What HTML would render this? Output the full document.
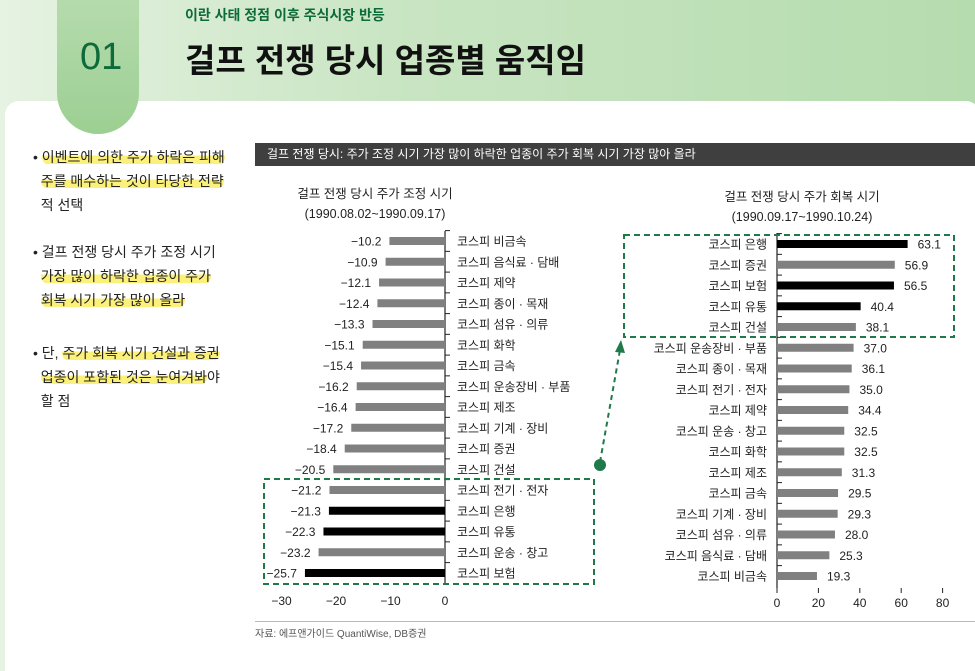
<!DOCTYPE html>
<html><head><meta charset="utf-8">
<style>
*{margin:0;padding:0;box-sizing:border-box}
body{width:975px;height:657px;overflow:hidden;position:relative;font-family:"Liberation Sans","Noto Sans CJK KR",sans-serif;background:linear-gradient(90deg,#e6f2e2 0%,#c9e5c3 40%,#b5dcae 100%)}
.tab{position:absolute;left:57px;top:-20px;width:82px;height:154px;border-radius:0 0 41px 41px;background:linear-gradient(180deg,#b9ddb1,#9ccf92);z-index:2}
.panel{position:absolute;left:5px;top:101px;width:975px;height:570px;background:#fff;border-radius:14px 14px 0 0;z-index:1}
.num{position:absolute;left:80px;top:36px;font-size:38px;color:#0d6b3a;z-index:3}
.sub{position:absolute;left:185px;top:5px;font-size:14px;color:#0d6b3a;font-weight:bold}
.title{position:absolute;left:185px;top:34px;font-size:33px;font-weight:bold;color:#111}
.bul{position:absolute;left:33px;font-size:14px;color:#222;line-height:24px;width:220px;z-index:3}
.bul div{white-space:nowrap}
.hl{background:linear-gradient(180deg,transparent 40%,#fbf07a 40%,#fbf07a 95%,transparent 95%);border-radius:8px}
.bar{position:absolute;left:255px;top:143px;width:720px;height:23px;background:#3f3f3f;color:#fff;font-size:12px;line-height:23px;padding-left:12px;z-index:3}
.src{position:absolute;left:255px;top:625px;font-size:10px;color:#555;z-index:3}
.line{position:absolute;left:255px;top:621px;width:720px;height:1px;background:#bbb;z-index:3}
svg{z-index:4}
</style></head><body>
<div class="tab"></div>
<div class="panel"></div>
<div class="sub">이란 사태 정점 이후 주식시장 반등</div>
<div class="num">01</div>
<div class="title">걸프 전쟁 당시 업종별 움직임</div>
<div class="bul" style="top:145px">
<div>• <span class="hl">이벤트에 의한 주가 하락은 피해</span></div>
<div>&nbsp;&nbsp;<span class="hl">주를 매수하는 것이 타당한 전략</span></div>
<div>&nbsp;&nbsp;적 선택</div></div>
<div class="bul" style="top:240px">
<div>• 걸프 전쟁 당시 주가 조정 시기</div>
<div>&nbsp;&nbsp;<span class="hl">가장 많이 하락한 업종이 주가</span></div>
<div>&nbsp;&nbsp;<span class="hl">회복 시기 가장 많이 올라</span></div></div>
<div class="bul" style="top:341px">
<div>• 단, <span class="hl">주가 회복 시기 건설과 증권</span></div>
<div>&nbsp;&nbsp;<span class="hl">업종이 포함된 것은 눈여겨봐</span>야</div>
<div>&nbsp;&nbsp;할 점</div></div>
<div class="bar">걸프 전쟁 당시: 주가 조정 시기 가장 많이 하락한 업종이 주가 회복 시기 가장 많아 올라</div>
<div class="line"></div>
<div class="src">자료: 에프앤가이드 QuantiWise, DB증권</div>
<svg id="chart" width="975" height="657" style="position:absolute;left:0;top:0"></svg>
<script>
const leftCats=["코스피 비금속","코스피 음식료 · 담배","코스피 제약","코스피 종이 · 목재","코스피 섬유 · 의류","코스피 화학","코스피 금속","코스피 운송장비 · 부품","코스피 제조","코스피 기계 · 장비","코스피 증권","코스피 건설","코스피 전기 · 전자","코스피 은행","코스피 유통","코스피 운송 · 창고","코스피 보험"];
const leftVals=[-10.2,-10.9,-12.1,-12.4,-13.3,-15.1,-15.4,-16.2,-16.4,-17.2,-18.4,-20.5,-21.2,-21.3,-22.3,-23.2,-25.7];
const leftHi=[0,0,0,0,0,0,0,0,0,0,0,0,0,1,1,0,1];
const leftTicks=[-30,-20,-10,0];
const rightCats=["코스피 은행","코스피 증권","코스피 보험","코스피 유통","코스피 건설","코스피 운송장비 · 부품","코스피 종이 · 목재","코스피 전기 · 전자","코스피 제약","코스피 운송 · 창고","코스피 화학","코스피 제조","코스피 금속","코스피 기계 · 장비","코스피 섬유 · 의류","코스피 음식료 · 담배","코스피 비금속"];
const rightVals=[63.1,56.9,56.5,40.4,38.1,37.0,36.1,35.0,34.4,32.5,32.5,31.3,29.5,29.3,28.0,25.3,19.3];
const rightHi=[1,0,1,1,0,0,0,0,0,0,0,0,0,0,0,0,0];
const rightTicks=[0,20,40,60,80];

const svg=document.getElementById('chart');
const NS='http://www.w3.org/2000/svg';
function mk(t,a,txt){const e=document.createElementNS(NS,t);for(const k in a)e.setAttribute(k,a[k]);if(txt!==undefined)e.textContent=txt;svg.appendChild(e);return e;}
const F='"Liberation Sans","Noto Sans CJK KR",sans-serif';
const lx=v=>445+v*5.45;
const rx=v=>777+v*2.07;
const rowL=i=>241+i*20.75;
const rowR=i=>244+i*20.75;
const fmt=v=>(v<0?'−':'')+Math.abs(v).toFixed(1);

let t=mk('text',{x:375,y:198,'font-size':12.5,'text-anchor':'middle','font-family':F,fill:'#222'},'걸프 전쟁 당시 주가 조정 시기');

t=mk('text',{x:375,y:218,'font-size':12.5,'text-anchor':'middle','font-family':F,fill:'#222'},'(1990.08.02~1990.09.17)');

let ax=mk('line',{x1:445,y1:231,x2:445,y2:584,stroke:'#222','stroke-width':1.2});

leftVals.forEach((v,i)=>{
  const y=rowL(i);
  const r=mk('rect',{x:lx(v),y:y-4,width:lx(0)-lx(v),height:8,fill:leftHi[i]?'#000':'#808080'});
  
  const l=mk('text',{x:lx(v)-8,y:y+4.5,'font-size':12,'text-anchor':'end','font-family':F,fill:'#222'},fmt(v));
  
  const c=mk('text',{x:457,y:y+4.5,'font-size':12,'font-family':F,fill:'#222'},leftCats[i]);
  
  const tk=mk('line',{x1:445,y1:y-10.4,x2:450,y2:y-10.4,stroke:'#222'});
  
});
leftTicks.forEach(v=>{
  const tl=mk('text',{x:lx(v),y:605,'font-size':12,'text-anchor':'middle','font-family':F,fill:'#222'},v<0?'−'+Math.abs(v):String(v));
  
});
let b=mk('rect',{x:264,y:rowL(12)-11,width:330,height:rowL(16)-rowL(12)+22,fill:'none',stroke:'#1f7a4a','stroke-width':2,'stroke-dasharray':'6,4'});


t=mk('text',{x:802,y:201,'font-size':12.5,'text-anchor':'middle','font-family':F,fill:'#222'},'걸프 전쟁 당시 주가 회복 시기');

t=mk('text',{x:802,y:221,'font-size':12.5,'text-anchor':'middle','font-family':F,fill:'#222'},'(1990.09.17~1990.10.24)');

ax=mk('line',{x1:777,y1:233,x2:777,y2:588,stroke:'#222','stroke-width':1.2});

rightVals.forEach((v,i)=>{
  const y=rowR(i);
  const r=mk('rect',{x:rx(0),y:y-4,width:rx(v)-rx(0),height:8,fill:rightHi[i]?'#000':'#808080'});
  
  const l=mk('text',{x:rx(v)+10,y:y+4.5,'font-size':12,'font-family':F,fill:'#222'},v.toFixed(1));
  
  const c=mk('text',{x:767,y:y+4.5,'font-size':12,'text-anchor':'end','font-family':F,fill:'#222'},rightCats[i]);
  
  const tk=mk('line',{x1:777,y1:y-10.4,x2:782,y2:y-10.4,stroke:'#222'});
  
});
rightTicks.forEach(v=>{
  const tl=mk('text',{x:rx(v),y:607,'font-size':12,'text-anchor':'middle','font-family':F,fill:'#222'},String(v));
  
  const tk=mk('line',{x1:rx(v),y1:588,x2:rx(v),y2:593,stroke:'#222'});
  
});
b=mk('rect',{x:624,y:rowR(0)-9,width:330,height:rowR(4)-rowR(0)+19,fill:'none',stroke:'#1f7a4a','stroke-width':2,'stroke-dasharray':'6,4'});


const ar=mk('line',{x1:600,y1:462,x2:620,y2:350,stroke:'#1f7a4a','stroke-width':2,'stroke-dasharray':'5,4'});

const ah=mk('polygon',{points:'621,340 615,352 625,353',fill:'#1f7a4a'});

const dot=mk('circle',{cx:600,cy:465,r:6,fill:'#1f7a4a'});

</script>
</body></html>
